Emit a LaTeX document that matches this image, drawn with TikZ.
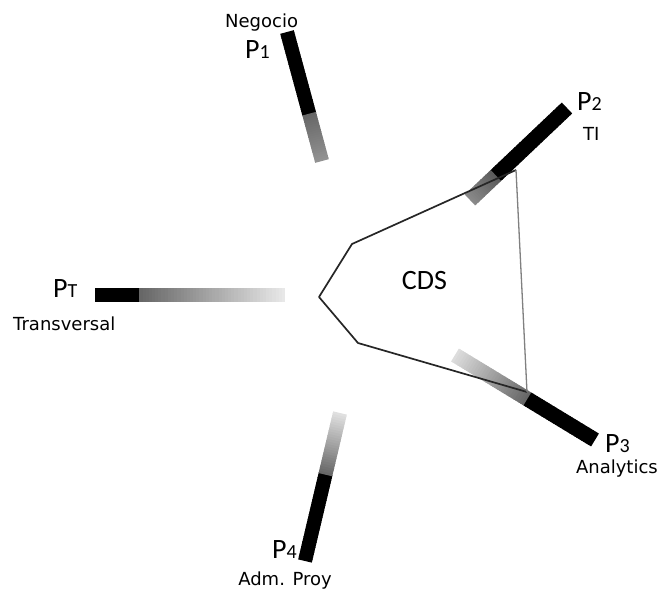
\documentclass[tikz,border=0pt]{standalone}
\usepackage{fontspec}
\setmainfont{DejaVu Sans}
\newfontfamily\pfont{Carlito}
\usepackage{tikz}
\usetikzlibrary{calc}

% small index after a P
\newcommand{\pidx}[1]{{\fontsize{20}{20}\selectfont #1}}

% bar: solid black from #1, then fading towards #2
% #3 width, #4 solid part, #5 first grey, #6 last grey
\newcommand{\pillar}[6]{%
  \foreach \i in {0,...,59}{%
    \pgfmathsetmacro{\ta}{\i/60}%
    \pgfmathsetmacro{\tb}{min((\i+1.4)/60,1)}%
    \pgfmathsetmacro{\gr}{\ta<#4 ? 100 : #5-(#5-#6)*(\ta-#4)/(1-#4)}%
    \draw[line width=#3, black!\gr] ($(#1)!\ta!(#2)$) -- ($(#1)!\tb!(#2)$);
  }%
}

\begin{document}
\begin{tikzpicture}[x=1pt, y=-1pt,
    lbl/.style={font=\fontsize{18}{18}\selectfont, inner sep=0pt},
    plbl/.style={font=\pfont\fontsize{28}{28}\selectfont, inner sep=0pt},
    edge/.style={black!85, line width=1.7pt, line join=round}]
  \useasboundingbox (0,0) rectangle (662,595);

  % bar ends
  \coordinate (p1a) at (287,32);  \coordinate (p1b) at (322,161);
  \coordinate (p2a) at (567,108); \coordinate (p2b) at (470,200);
  \coordinate (pta) at (95,295);  \coordinate (ptb) at (285,295);
  \coordinate (p3a) at (595,440); \coordinate (p3b) at (455,355);
  \coordinate (p4a) at (305,561); \coordinate (p4b) at (340,413);

  % bars
  \pillar{p1a}{p1b}{14pt}{0.63}{60}{42}
  \pillar{p2a}{p2b}{15pt}{0.72}{65}{45}
  \pillar{pta}{ptb}{14pt}{0.23}{60}{8}
  \pillar{p3a}{p3b}{15pt}{0.48}{60}{12}
  \pillar{p4a}{p4b}{14pt}{0.58}{60}{10}

  % CDS outline
  \coordinate (ca) at (352,244);
  \coordinate (cb) at (319,297);
  \coordinate (cc) at (358,343);
  \coordinate (cd) at (527,392);
  \coordinate (ce) at (516,170);
  \draw[edge] (ce) -- (ca) -- (cb) -- (cc) -- (cd);
  \draw[black!50, line width=1.3pt] (ce) -- (cd);
  \node[font=\pfont\fontsize{28}{28}\selectfont, inner sep=0pt] (cds) at (424.5,280.5) {CDS};

  % labels
  \node[lbl, anchor=base west] (negocio) at (225,27) {Negocio};
  \node[plbl, anchor=base west] (p1) at (245,58) {P\pidx{1}};
  \node[plbl, anchor=base west] (p2) at (577,110) {P\pidx{2}};
  \node[lbl, anchor=base west] (ti) at (583,140) {TI};
  \node[plbl, anchor=base west] (pt) at (53,297) {P\pidx{T}};
  \node[lbl, anchor=base west] (transversal) at (13,330) {Transversal};
  \node[plbl, anchor=base west] (p3) at (605,452) {P\pidx{3}};
  \node[lbl, anchor=base east] (analytics) at (658,473) {Analytics};
  \node[plbl, anchor=base west] (p4) at (272,558) {P\pidx{4}};
  \node[lbl, anchor=base east] (admproy) at (332,585) {Adm. Proy};
\end{tikzpicture}
\end{document}
